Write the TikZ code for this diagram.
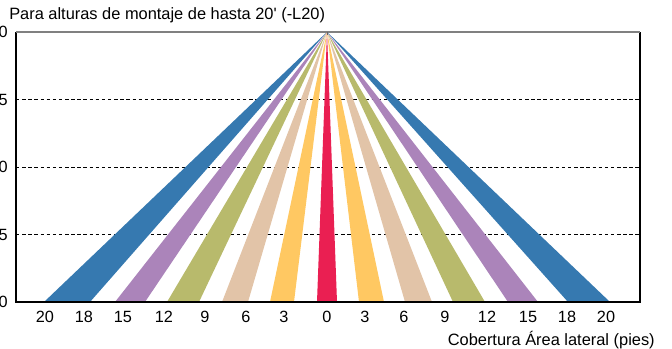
\documentclass[tikz,border=0pt]{standalone}
\usepackage{fontspec}
\setmainfont{Liberation Sans}
\usepackage{xcolor}
\usetikzlibrary{positioning,calc}
\definecolor{bandred}{RGB}{234,31,82}
\definecolor{bandyellow}{RGB}{255,200,98}
\definecolor{bandtan}{RGB}{226,196,168}
\definecolor{bandolive}{RGB}{184,186,108}
\definecolor{bandpurple}{RGB}{171,132,186}
\definecolor{bandblue}{RGB}{54,121,176}

\begin{document}
\begin{tikzpicture}[
			x=0.75pt, y=-0.75pt,
			axis/.style={line width=0.9pt, black},
			topaxis/.style={line width=1.3pt, black!50},
			gridline/.style={line width=0.6pt, black, dash pattern=on 2.6pt off 2pt},
			tick/.style={font=\fontsize{12.2}{14}\selectfont, inner sep=0pt},
			label/.style={font=\fontsize{12.3}{14}\selectfont, inner sep=0pt}
			]
			\useasboundingbox (0,0) rectangle (672,349);
			
			% Frame and grid
			\coordinate (tl) at (16,32);
			\coordinate (tr) at (640,32);
			\coordinate (bl) at (16,302);
			\coordinate (br) at (640,302);
			\coordinate (apex) at (327,32);
			\draw[gridline] (16,99.5) -- (640,99.5);
			\draw[gridline] (16,167) -- (640,167);
			\draw[gridline] (16,234.5) -- (640,234.5);
			
			% Coverage bands
			\fill[bandblue] (apex) -- (44,302) -- (90,302) -- cycle;
			\fill[bandpurple] (apex) -- (115,302) -- (145,302) -- cycle;
			\fill[bandolive] (apex) -- (167,302) -- (199,302) -- cycle;
			\fill[bandtan] (apex) -- (222,302) -- (248,302) -- cycle;
			\fill[bandyellow] (apex) -- (270,302) -- (294,302) -- cycle;
			\fill[bandred] (apex) -- (317,302) -- (337,302) -- cycle;
			\fill[bandyellow] (apex) -- (359,302) -- (384,302) -- cycle;
			\fill[bandtan] (apex) -- (405,302) -- (432,302) -- cycle;
			\fill[bandolive] (apex) -- (453,302) -- (485,302) -- cycle;
			\fill[bandpurple] (apex) -- (508,302) -- (538,302) -- cycle;
			\fill[bandblue] (apex) -- (568,302) -- (610,302) -- cycle;
			
			% Axes
			\draw[axis] (tl) -- (bl) -- (br) -- (tr);
			\draw[topaxis] (tl) -- (tr);
			\draw[line width=0.6pt, black!60] (apex) -- ++(0,3);
			
			% Height labels
			\node[tick, anchor=east] (h0) at (8,32) {0};
			\node[tick, anchor=east] (h1) at (8,99.5) {5};
			\node[tick, anchor=east] (h2) at (8,167) {0};
			\node[tick, anchor=east] (h3) at (8,234.5) {5};
			\node[tick, anchor=east] (h4) at (8,302) {0};
			
			% Lateral labels
			\node[tick] (l20) at (45,317) {20};
			\node[tick] (l18) at (84,317) {18};
			\node[tick] (l15) at (123,317) {15};
			\node[tick] (l12) at (164,317) {12};
			\node[tick] (l9) at (205,317) {9};
			\node[tick] (l6) at (246,317) {6};
			\node[tick] (l3) at (284,317) {3};
			\node[tick] (c0) at (327,317) {0};
			\node[tick] (r3) at (365,317) {3};
			\node[tick] (r6) at (404,317) {6};
			\node[tick] (r9) at (445,317) {9};
			\node[tick] (r12) at (487,317) {12};
			\node[tick] (r15) at (528,317) {15};
			\node[tick] (r18) at (567,317) {18};
			\node[tick] (r20) at (606,317) {20};
			
			% Titles
			\node[label, anchor=west] (title) at (9,15) {Para alturas de montaje de hasta 20\textquotesingle{} (-L20)};
			\node[label, anchor=east] (xlabel) at (655,340) {Cobertura Área lateral (pies)};
			
		\end{tikzpicture}
\end{document}
